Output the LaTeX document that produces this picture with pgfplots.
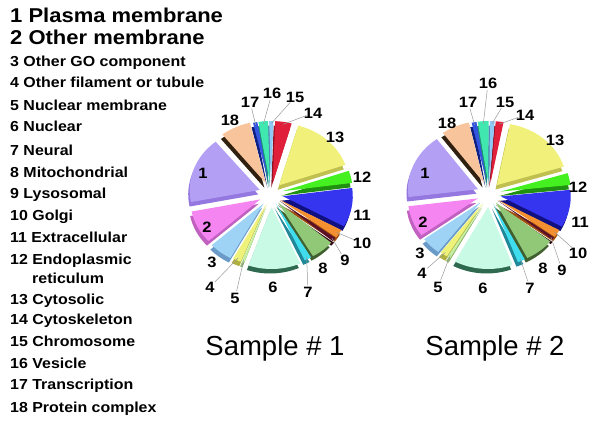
\documentclass[border=0pt]{standalone}
\usepackage{pgfplots}
\pgfplotsset{compat=1.18}
\usepackage{pgfplotstable}
\usepackage{fontspec}
\setmainfont{Liberation Sans}
\newfontfamily\legfont{Liberation Sans}[FakeStretch=1.1]

% slice colours (top) and side colours
\definecolor{c1}{HTML}{B3A0F5}\definecolor{s1}{HTML}{9478E0}
\definecolor{c2}{HTML}{F585F0}\definecolor{s2}{HTML}{C060C0}
\definecolor{c3}{HTML}{9ED3F5}\definecolor{s3}{HTML}{6A9AC8}
\definecolor{c4}{HTML}{EEF27A}\definecolor{s4}{HTML}{B0B040}
\definecolor{c5}{HTML}{C5F0A0}\definecolor{s5}{HTML}{90B870}
\definecolor{c6}{HTML}{C8FAE6}\definecolor{s6}{HTML}{2F6A50}
\definecolor{c7}{HTML}{40DDEE}\definecolor{s7}{HTML}{208898}
\definecolor{c8}{HTML}{90C878}\definecolor{s8}{HTML}{406030}
\definecolor{c9}{HTML}{5A1028}\definecolor{s9}{HTML}{300810}
\definecolor{c10}{HTML}{F59030}\definecolor{s10}{HTML}{A05010}
\definecolor{c11}{HTML}{3535F0}\definecolor{s11}{HTML}{101080}
\definecolor{c12}{HTML}{45F020}\definecolor{s12}{HTML}{209010}
\definecolor{c13}{HTML}{F0F07A}\definecolor{s13}{HTML}{C0C050}
\definecolor{c14}{HTML}{E0203A}\definecolor{s14}{HTML}{901020}
\definecolor{c15}{HTML}{8EC8F5}\definecolor{s15}{HTML}{5080B0}
\definecolor{c16}{HTML}{40E8B0}\definecolor{s16}{HTML}{209070}
\definecolor{c17}{HTML}{3355E0}\definecolor{s17}{HTML}{102080}
\definecolor{c18}{HTML}{F8C49C}\definecolor{s18}{HTML}{302010}

% pct = share of the pie, ex = explode offset, lx ly = label position (pixels, y down), ln = leader line
\pgfplotstableread{
pct ex lx ly ln
17.3 12 203 173 0
8.6 12 207 227 0
5.4 12 212 262 0
1.9 11 210 287 1
0.6 11 235 298 1
12.1 13 273 287 0
1.6 11 308 292 1
5.4 11 323 268 0
1.0 11 345 260 1
2.2 11 362 243 1
10.2 12 362 215 0
3.2 12 362 177 0
15.3 12 335 137 0
3.8 11 313 113 1
1.0 11 295 97 1
2.2 11 272 93 1
1.0 11 250 102 1
7.0 12 230 120 0
}\sampleA

\pgfplotstableread{
pct ex lx ly ln
17.0 12 425 173 0
8.1 12 423 222 0
4.6 12 420 253 0
1.7 11 422 273 1
0.7 11 438 287 1
13.6 13 483 288 0
1.7 11 530 288 1
6.8 11 543 268 0
0.7 11 562 270 1
2.0 11 578 253 1
9.8 12 580 222 0
3.1 12 578 187 0
17.2 12 555 140 0
1.8 11 525 115 1
1.1 11 505 102 1
2.5 11 488 83 1
1.1 11 468 102 1
6.5 12 447 123 0
}\sampleB

\def\rx{70}
\def\ry{62}

% #1 table, #2 cx, #3 cy (axis units), #4 start angle, #5 pass (0 side, 1 top, 2 labels)
\newcommand\piepass[5]{%
  \pgfmathsetmacro\acc{#4}%
  \pgfplotsforeachungrouped \i in {0,...,17}{%
    \pgfplotstablegetelem{\i}{pct}\of{#1}\let\p\pgfplotsretval
    \pgfplotstablegetelem{\i}{ex}\of{#1}\let\ex\pgfplotsretval
    \pgfmathsetmacro\aa{\acc}%
    \pgfmathsetmacro\bb{\acc+3.6*\p}%
    \let\acc\bb
    \pgfmathsetmacro\mm{(\aa+\bb)/2}%
    \pgfmathsetmacro\ox{#2+\ex*cos(\mm)}%
    \pgfmathsetmacro\oy{#3+\ex*sin(\mm)}%
    \pgfmathsetmacro\sx{\ox+\rx*cos(\aa)}%
    \pgfmathsetmacro\sy{\oy+\ry*sin(\aa)}%
    \pgfmathtruncatemacro\k{\i+1}%
    \ifcase#5\relax
      \pgfmathsetmacro\oxs{\ox-1.5}\pgfmathsetmacro\oys{\oy-4.5}%
      \pgfmathsetmacro\sxs{\sx-1.5}\pgfmathsetmacro\sys{\sy-4.5}%
      \fill[s\k] (axis cs:\oxs,\oys) -- (axis cs:\sxs,\sys)
        arc[start angle=\aa,end angle=\bb,x radius=\rx,y radius=\ry] -- cycle;
    \or
      \fill[c\k] (axis cs:\ox,\oy) -- (axis cs:\sx,\sy)
        arc[start angle=\aa,end angle=\bb,x radius=\rx,y radius=\ry] -- cycle;
    \or
      \pgfplotstablegetelem{\i}{lx}\of{#1}\let\lx\pgfplotsretval
      \pgfplotstablegetelem{\i}{ly}\of{#1}\let\lyp\pgfplotsretval
      \pgfplotstablegetelem{\i}{ln}\of{#1}\let\ln\pgfplotsretval
      \pgfmathsetmacro\ly{424-\lyp}%
      \ifnum\ln=1\relax
        \pgfmathsetmacro\ex{\ox+0.96*\rx*cos(\mm)}%
        \pgfmathsetmacro\ey{\oy+0.96*\ry*sin(\mm)}%
        \pgfmathsetmacro\dd{veclen(\ex-\lx,\ey-\ly)}%
        \pgfmathsetmacro\tx{\lx+7*(\ex-\lx)/\dd}%
        \pgfmathsetmacro\ty{\ly+7*(\ey-\ly)/\dd}%
        \draw[gray!80, line width=0.5pt] (axis cs:\ex,\ey) -- (axis cs:\tx,\ty);
      \fi
      \node[font=\legfont\bfseries\fontsize{15}{15}\selectfont, inner sep=0pt]
        at (axis cs:\lx,\ly) {\k};
    \fi
  }%
}

\begin{document}
\begin{tikzpicture}
\begin{axis}[
  width=600pt, height=424pt, scale only axis,
  xmin=0, xmax=600, ymin=0, ymax=424,
  hide axis, clip=false]
\pgfplotsextra{%
  \path (axis cs:0,0) rectangle (axis cs:600,424);
  \piepass{\sampleA}{271}{230}{129}{0}%
  \piepass{\sampleB}{489}{230}{126}{0}%
  \piepass{\sampleA}{271}{230}{129}{1}%
  \piepass{\sampleB}{489}{230}{126}{1}%
  \piepass{\sampleA}{271}{230}{129}{2}%
  \piepass{\sampleB}{489}{230}{126}{2}%
}
% titles
\node[anchor=base, font=\fontsize{27.5}{30}\selectfont, inner sep=0pt] at (axis cs:275,69) {Sample \# 1};
\node[anchor=base, font=\fontsize{27.5}{30}\selectfont, inner sep=0pt] at (axis cs:495,69) {Sample \# 2};
% legend
\begin{scope}[every node/.style={anchor=base west, inner sep=0pt}]
\node[font=\legfont\bfseries\fontsize{20}{20}\selectfont] at (axis cs:10,401) {1 Plasma membrane};
\node[font=\legfont\bfseries\fontsize{20}{20}\selectfont] at (axis cs:10,379) {2 Other membrane};
\node[font=\legfont\bfseries\fontsize{14.5}{14}\selectfont] at (axis cs:10,357) {3 Other GO component};
\node[font=\legfont\bfseries\fontsize{14.5}{14}\selectfont] at (axis cs:10,336) {4 Other filament or tubule};
\node[font=\legfont\bfseries\fontsize{14.5}{14}\selectfont] at (axis cs:10,313) {5 Nuclear membrane};
\node[font=\legfont\bfseries\fontsize{14.5}{14}\selectfont] at (axis cs:10,292) {6 Nuclear};
\node[font=\legfont\bfseries\fontsize{14.5}{14}\selectfont] at (axis cs:10,269) {7 Neural};
\node[font=\legfont\bfseries\fontsize{14.5}{14}\selectfont] at (axis cs:10,247) {8 Mitochondrial};
\node[font=\legfont\bfseries\fontsize{14.5}{14}\selectfont] at (axis cs:10,226) {9 Lysosomal};
\node[font=\legfont\bfseries\fontsize{14.5}{14}\selectfont] at (axis cs:10,204) {10 Golgi};
\node[font=\legfont\bfseries\fontsize{14.5}{14}\selectfont] at (axis cs:10,182) {11 Extracellular};
\node[font=\legfont\bfseries\fontsize{14.5}{14}\selectfont] at (axis cs:10,160) {12 Endoplasmic};
\node[font=\legfont\bfseries\fontsize{14.5}{14}\selectfont] at (axis cs:32,141) {reticulum};
\node[font=\legfont\bfseries\fontsize{14.5}{14}\selectfont] at (axis cs:10,120) {13 Cytosolic};
\node[font=\legfont\bfseries\fontsize{14.5}{14}\selectfont] at (axis cs:10,100) {14 Cytoskeleton};
\node[font=\legfont\bfseries\fontsize{14.5}{14}\selectfont] at (axis cs:10,78) {15 Chromosome};
\node[font=\legfont\bfseries\fontsize{14.5}{14}\selectfont] at (axis cs:10,56) {16 Vesicle};
\node[font=\legfont\bfseries\fontsize{14.5}{14}\selectfont] at (axis cs:10,35) {17 Transcription};
\node[font=\legfont\bfseries\fontsize{14.5}{14}\selectfont] at (axis cs:10,12) {18 Protein complex};
\end{scope}
\end{axis}
\end{tikzpicture}
\end{document}
